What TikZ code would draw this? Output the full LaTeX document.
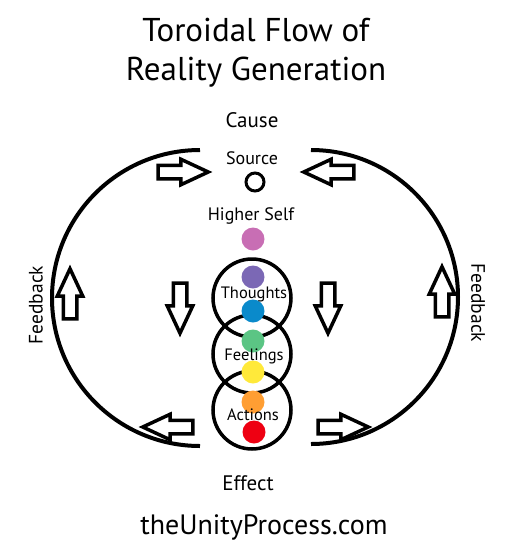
\documentclass[tikz,border=0pt]{standalone}
\usepackage{fontspec}
\setmainfont{PT Sans}
\usetikzlibrary{positioning, shapes.arrows}
\definecolor{selfpink}{RGB}{200,110,180}
\definecolor{thoughtpurple}{RGB}{123,104,181}
\definecolor{thoughtblue}{RGB}{10,138,203}
\definecolor{feelgreen}{RGB}{91,197,132}
\definecolor{feelyellow}{RGB}{255,233,58}
\definecolor{actorange}{RGB}{255,158,51}
\definecolor{actred}{RGB}{238,0,18}

\begin{document}
\begin{tikzpicture}[x=1pt, y=-1pt,
    ring/.style={draw, line width=3.5pt},
    dot/.style={circle, fill, inner sep=0pt, minimum size=23pt},
    flow/.style={single arrow, draw, line width=3.5pt, fill=white, inner xsep=0pt, inner ysep=5pt,
                 single arrow head extend=6pt, single arrow tip angle=50, minimum height=50pt},
    lbl/.style={font=\fontsize{16.5}{16.5}\selectfont},
    biglbl/.style={font=\fontsize{21}{21}\selectfont}]
    \useasboundingbox (0,0) rectangle (529,550);

    % Titel
    \node[align=center, font=\fontsize{33}{39}\selectfont] (title) at (256,53) {Toroidal Flow of\\Reality Generation};
    \node[biglbl] (cause) at (252,120) {Cause};

    % grosse Boegen links und rechts
    \draw[line width=4pt] (200,150) arc[start angle=270, end angle=90, radius=148];
    \draw[line width=4pt] (311,150) arc[start angle=-90, end angle=90, radius=147];

    % Quelle und hoeheres Selbst
    \node[lbl, font=\fontsize{18}{18}\selectfont] (source) at (252,158) {Source};
    \node[circle, draw, line width=3pt, minimum size=18pt, inner sep=0pt] (srcring) at (255,182) {};
    \node[lbl, font=\fontsize{18}{18}\selectfont] (higher) at (251,216) {Higher Self};
    \node[dot, selfpink] (hs) at (253,239) {};

    % drei Kreise
    \node[ring, circle, minimum size=78pt, inner sep=0pt] (tring) at (252,298) {};
    \node[ring, circle, minimum size=78pt, inner sep=0pt] (fring) at (252,354) {};
    \node[ring, circle, minimum size=78pt, inner sep=0pt] (aring) at (252,410) {};

    % Punkte
    \node[dot, thoughtpurple] (t1) at (253,277) {};
    \node[dot, thoughtblue] (t2) at (253,311) {};
    \node[dot, feelgreen] (f1) at (253,341) {};
    \node[dot, feelyellow] (f2) at (253,372) {};
    \node[dot, actorange] (a1) at (253,402) {};
    \node[dot, actred] (a2) at (254,432) {};

    \node[lbl] (thoughts) at (254,294) {Thoughts};
    \node[lbl] (feelings) at (254,356) {Feelings};
    \node[lbl] (actions) at (253,415) {Actions};

    % Pfeile
    \node[flow] (ar1) at (176,172) {};
    \node[flow, rotate=180] (ar2) at (336,172) {};
    \node[flow, rotate=180] (ar3) at (175,427) {};
    \node[flow] (ar4) at (336,427) {};
    \node[flow, rotate=90] (ar5) at (70,301) {};
    \node[flow, rotate=-90] (ar6) at (180,301) {};
    \node[flow, rotate=-90] (ar7) at (328,301) {};
    \node[flow, rotate=90] (ar8) at (442,299) {};

    % Feedback
    \node[font=\fontsize{19.5}{19.5}\selectfont, rotate=90] (fbl) at (36,305) {Feedback};
    \node[font=\fontsize{19.5}{19.5}\selectfont, rotate=-90] (fbr) at (478,303) {Feedback};

    \node[biglbl] (effect) at (248,483) {Effect};
    \node[font=\fontsize{28}{28}\selectfont] (web) at (264,527) {theUnityProcess.com};
\end{tikzpicture}
\end{document}
